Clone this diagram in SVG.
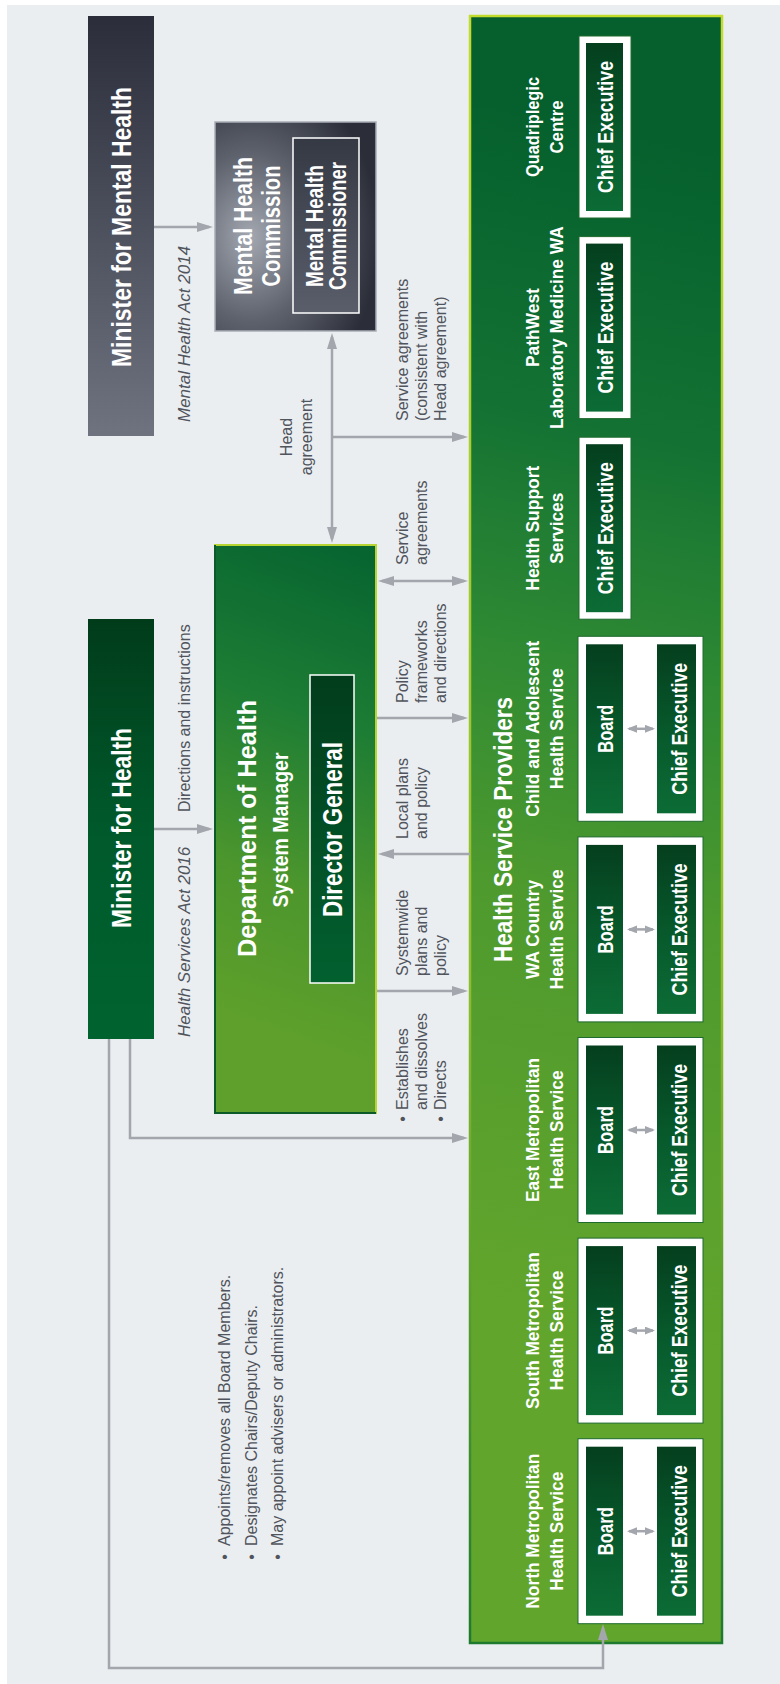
<svg xmlns="http://www.w3.org/2000/svg" width="780" height="1684" viewBox="0 0 780 1684">
<defs>
<style>
.b{font-family:"Liberation Sans",Arial,Helvetica,sans-serif;font-weight:bold;fill:#fff}
.p{font-size:18.5px}
.l{font-family:"Liberation Sans",Arial,Helvetica,sans-serif;font-size:16px;fill:#50545c}
.i{font-style:italic;font-size:17px}
.c{stroke:#a3a6ad;stroke-width:2.5;fill:none}
.wb{fill:#fff;stroke:#1f6a2e;stroke-width:1}
.gb{fill:url(#gBox)}
</style>
<linearGradient id="gMMH" x1="0" y1="0" x2="0" y2="1"><stop offset="0" stop-color="#2b2e3a"/><stop offset="1" stop-color="#6e737f"/></linearGradient>
<radialGradient id="gMHC" cx="0.22" cy="0.55" r="0.8"><stop offset="0" stop-color="#a3a7b0"/><stop offset="0.5" stop-color="#5e626d"/><stop offset="1" stop-color="#2b2e38"/></radialGradient>
<linearGradient id="gMHCi" x1="0" y1="0" x2="0" y2="1"><stop offset="0" stop-color="#353944"/><stop offset="1" stop-color="#5a5e6a"/></linearGradient>
<linearGradient id="gMfH" x1="0" y1="0" x2="0" y2="1"><stop offset="0" stop-color="#013c1a"/><stop offset="0.5" stop-color="#00592b"/><stop offset="1" stop-color="#00632f"/></linearGradient>
<linearGradient id="gDoH" gradientUnits="userSpaceOnUse" x1="376" y1="560" x2="215" y2="1010"><stop offset="0" stop-color="#076530"/><stop offset="0.35" stop-color="#1d7d34"/><stop offset="0.7" stop-color="#4c962d"/><stop offset="1" stop-color="#5ea02b"/></linearGradient>
<linearGradient id="gDG" x1="0" y1="0" x2="0" y2="1"><stop offset="0" stop-color="#023d1b"/><stop offset="1" stop-color="#02602f"/></linearGradient>
<linearGradient id="gHSP" gradientUnits="userSpaceOnUse" x1="720" y1="150" x2="470" y2="1300"><stop offset="0" stop-color="#05602d"/><stop offset="0.25" stop-color="#137233"/><stop offset="0.45" stop-color="#2f8a33"/><stop offset="0.65" stop-color="#4e9a2e"/><stop offset="1" stop-color="#62a52c"/></linearGradient>
<linearGradient id="gHSPs" x1="0" y1="0" x2="0" y2="1"><stop offset="0" stop-color="#c3dc2c"/><stop offset="0.6" stop-color="#8dbd2c"/><stop offset="1" stop-color="#1d7a2e"/></linearGradient>
<linearGradient id="gBox" x1="0" y1="0" x2="0" y2="1"><stop offset="0" stop-color="#053f1e"/><stop offset="0.5" stop-color="#07582b"/><stop offset="1" stop-color="#0c6c35"/></linearGradient>
<marker id="ah" viewBox="0 0 16 11" refX="12" refY="5.5" markerWidth="16" markerHeight="11" markerUnits="userSpaceOnUse" orient="auto-start-reverse"><path d="M0,0.5 L16,5.5 L0,10.5 Z" fill="#a3a6ad"/></marker>
<marker id="as" viewBox="0 0 10 8" refX="8" refY="4" markerWidth="10" markerHeight="8" markerUnits="userSpaceOnUse" orient="auto-start-reverse"><path d="M0,0 L10,4 L0,8 Z" fill="#a3a6ad"/></marker>
</defs>

<rect x="0" y="0" width="780" height="1684" fill="#ffffff"/>
<rect x="7" y="5" width="773" height="1679" fill="#ebeef1"/>

<g id="minister-mental-health">
<rect x="88" y="16" width="66" height="420" fill="url(#gMMH)"/>
<text class="b" font-size="28" text-anchor="middle" textLength="280" lengthAdjust="spacingAndGlyphs" transform="translate(130.5,227) rotate(-90)">Minister for Mental Health</text>
</g>

<g id="mental-health-commission">
<rect x="215" y="122" width="161" height="209" fill="url(#gMHC)" stroke="#a9adb5" stroke-width="1.5"/>
<text class="b" font-size="26" text-anchor="middle" textLength="138" lengthAdjust="spacingAndGlyphs" transform="translate(252,226) rotate(-90)">Mental Health</text>
<text class="b" font-size="26" text-anchor="middle" textLength="121" lengthAdjust="spacingAndGlyphs" transform="translate(279.5,226) rotate(-90)">Commission</text>
<g id="mental-health-commissioner">
<rect x="293" y="138" width="66" height="175" fill="url(#gMHCi)" stroke="#ffffff" stroke-width="1.5"/>
<text class="b" font-size="23.5" text-anchor="middle" textLength="122" lengthAdjust="spacingAndGlyphs" transform="translate(323,226) rotate(-90)">Mental Health</text>
<text class="b" font-size="23.5" text-anchor="middle" textLength="128" lengthAdjust="spacingAndGlyphs" transform="translate(346,226) rotate(-90)">Commissioner</text>
</g>
</g>

<g id="minister-health">
<rect x="88" y="619" width="66" height="420" fill="url(#gMfH)"/>
<text class="b" font-size="28" text-anchor="middle" textLength="200" lengthAdjust="spacingAndGlyphs" transform="translate(131,828) rotate(-90)">Minister for Health</text>
</g>

<g id="department-of-health">
<rect x="215" y="545" width="161" height="568" fill="url(#gDoH)" stroke="#b6d432" stroke-width="2"/>
<path d="M215,545 V1113 H376" fill="none" stroke="#0b5a28" stroke-width="2"/>
<text class="b" font-size="26" text-anchor="middle" textLength="257" lengthAdjust="spacingAndGlyphs" transform="translate(255.5,828.5) rotate(-90)">Department of Health</text>
<text class="b" font-size="22" text-anchor="middle" textLength="155" lengthAdjust="spacingAndGlyphs" transform="translate(288,830) rotate(-90)">System Manager</text>
<g id="director-general">
<rect x="310" y="675" width="44" height="308" fill="url(#gDG)" stroke="#ffffff" stroke-width="1.5"/>
<text class="b" font-size="28" text-anchor="middle" textLength="175" lengthAdjust="spacingAndGlyphs" transform="translate(341.5,829.5) rotate(-90)">Director General</text>
</g>
</g>

<g id="health-service-providers">
<rect x="470" y="16" width="252" height="1627" fill="url(#gHSP)" stroke="url(#gHSPs)" stroke-width="2.5"/>
<text class="b" font-size="26" text-anchor="middle" textLength="265" lengthAdjust="spacingAndGlyphs" transform="translate(512,829.5) rotate(-90)">Health Service Providers</text>
</g>

<g id="quadriplegic-centre">
<text class="b p" text-anchor="middle" textLength="100" lengthAdjust="spacingAndGlyphs" transform="translate(539,127) rotate(-90)">Quadriplegic</text>
<text class="b p" text-anchor="middle" textLength="53" lengthAdjust="spacingAndGlyphs" transform="translate(563,127) rotate(-90)">Centre</text>
<rect class="wb" x="579" y="36" width="52" height="182"/>
<rect class="gb" x="586" y="43" width="37" height="168"/>
<text class="b" font-size="22" text-anchor="middle" textLength="132" lengthAdjust="spacingAndGlyphs" transform="translate(613,127) rotate(-90)">Chief Executive</text>
</g>

<g id="pathwest">
<text class="b p" text-anchor="middle" textLength="79" lengthAdjust="spacingAndGlyphs" transform="translate(539,327.6) rotate(-90)">PathWest</text>
<text class="b p" text-anchor="middle" textLength="203" lengthAdjust="spacingAndGlyphs" transform="translate(563,327.6) rotate(-90)">Laboratory Medicine WA</text>
<rect class="wb" x="579" y="236.6" width="52" height="182"/>
<rect class="gb" x="586" y="243.6" width="37" height="168"/>
<text class="b" font-size="22" text-anchor="middle" textLength="132" lengthAdjust="spacingAndGlyphs" transform="translate(613,327.6) rotate(-90)">Chief Executive</text>
</g>

<g id="health-support-services">
<text class="b p" text-anchor="middle" textLength="125" lengthAdjust="spacingAndGlyphs" transform="translate(539,528.2) rotate(-90)">Health Support</text>
<text class="b p" text-anchor="middle" textLength="71" lengthAdjust="spacingAndGlyphs" transform="translate(563,528.2) rotate(-90)">Services</text>
<rect class="wb" x="579" y="437.2" width="52" height="182"/>
<rect class="gb" x="586" y="444.2" width="37" height="168"/>
<text class="b" font-size="22" text-anchor="middle" textLength="132" lengthAdjust="spacingAndGlyphs" transform="translate(613,528.2) rotate(-90)">Chief Executive</text>
</g>

<g id="child-adolescent">
<text class="b p" text-anchor="middle" textLength="176" lengthAdjust="spacingAndGlyphs" transform="translate(539,728.8) rotate(-90)">Child and Adolescent</text>
<text class="b p" text-anchor="middle" textLength="121" lengthAdjust="spacingAndGlyphs" transform="translate(563,728.8) rotate(-90)">Health Service</text>
<rect class="wb" x="578" y="636.3" width="125" height="185"/>
<rect class="gb" x="586" y="644.3" width="37" height="169"/>
<rect class="gb" x="657" y="644.3" width="39" height="169"/>
<text class="b" font-size="22" text-anchor="middle" textLength="48" lengthAdjust="spacingAndGlyphs" transform="translate(613,728.8) rotate(-90)">Board</text>
<text class="b" font-size="22" text-anchor="middle" textLength="132" lengthAdjust="spacingAndGlyphs" transform="translate(687,728.8) rotate(-90)">Chief Executive</text>
</g>

<g id="wa-country">
<text class="b p" text-anchor="middle" textLength="99" lengthAdjust="spacingAndGlyphs" transform="translate(539,929.4) rotate(-90)">WA Country</text>
<text class="b p" text-anchor="middle" textLength="120" lengthAdjust="spacingAndGlyphs" transform="translate(563,929.4) rotate(-90)">Health Service</text>
<rect class="wb" x="578" y="836.9" width="125" height="185"/>
<rect class="gb" x="586" y="844.9" width="37" height="169"/>
<rect class="gb" x="657" y="844.9" width="39" height="169"/>
<text class="b" font-size="22" text-anchor="middle" textLength="48" lengthAdjust="spacingAndGlyphs" transform="translate(613,929.4) rotate(-90)">Board</text>
<text class="b" font-size="22" text-anchor="middle" textLength="132" lengthAdjust="spacingAndGlyphs" transform="translate(687,929.4) rotate(-90)">Chief Executive</text>
</g>

<g id="east-metropolitan">
<text class="b p" text-anchor="middle" textLength="144" lengthAdjust="spacingAndGlyphs" transform="translate(539,1130) rotate(-90)">East Metropolitan</text>
<text class="b p" text-anchor="middle" textLength="119" lengthAdjust="spacingAndGlyphs" transform="translate(563,1130) rotate(-90)">Health Service</text>
<rect class="wb" x="578" y="1037.5" width="125" height="185"/>
<rect class="gb" x="586" y="1045.5" width="37" height="169"/>
<rect class="gb" x="657" y="1045.5" width="39" height="169"/>
<text class="b" font-size="22" text-anchor="middle" textLength="48" lengthAdjust="spacingAndGlyphs" transform="translate(613,1130) rotate(-90)">Board</text>
<text class="b" font-size="22" text-anchor="middle" textLength="132" lengthAdjust="spacingAndGlyphs" transform="translate(687,1130) rotate(-90)">Chief Executive</text>
</g>

<g id="south-metropolitan">
<text class="b p" text-anchor="middle" textLength="157" lengthAdjust="spacingAndGlyphs" transform="translate(539,1330.6) rotate(-90)">South Metropolitan</text>
<text class="b p" text-anchor="middle" textLength="120" lengthAdjust="spacingAndGlyphs" transform="translate(563,1330.6) rotate(-90)">Health Service</text>
<rect class="wb" x="578" y="1238.1" width="125" height="185"/>
<rect class="gb" x="586" y="1246.1" width="37" height="169"/>
<rect class="gb" x="657" y="1246.1" width="39" height="169"/>
<text class="b" font-size="22" text-anchor="middle" textLength="48" lengthAdjust="spacingAndGlyphs" transform="translate(613,1330.6) rotate(-90)">Board</text>
<text class="b" font-size="22" text-anchor="middle" textLength="132" lengthAdjust="spacingAndGlyphs" transform="translate(687,1330.6) rotate(-90)">Chief Executive</text>
</g>

<g id="north-metropolitan">
<text class="b p" text-anchor="middle" textLength="155" lengthAdjust="spacingAndGlyphs" transform="translate(539,1531.2) rotate(-90)">North Metropolitan</text>
<text class="b p" text-anchor="middle" textLength="119" lengthAdjust="spacingAndGlyphs" transform="translate(563,1531.2) rotate(-90)">Health Service</text>
<rect class="wb" x="578" y="1438.7" width="125" height="185"/>
<rect class="gb" x="586" y="1446.7" width="37" height="169"/>
<rect class="gb" x="657" y="1446.7" width="39" height="169"/>
<text class="b" font-size="22" text-anchor="middle" textLength="48" lengthAdjust="spacingAndGlyphs" transform="translate(613,1531.2) rotate(-90)">Board</text>
<text class="b" font-size="22" text-anchor="middle" textLength="132" lengthAdjust="spacingAndGlyphs" transform="translate(687,1531.2) rotate(-90)">Chief Executive</text>
</g>

<g id="connectors">
<path class="c" d="M154,227 H209" marker-end="url(#ah)"/>
<path class="c" d="M154,829 H209" marker-end="url(#ah)"/>
<path class="c" d="M332,337 V539" marker-start="url(#ah)" marker-end="url(#ah)"/>
<path class="c" d="M332,437 H464" marker-end="url(#ah)"/>
<path class="c" d="M382,581 H464" marker-start="url(#ah)" marker-end="url(#ah)"/>
<path class="c" d="M377,718 H464" marker-end="url(#ah)"/>
<path class="c" d="M470,854 H382" marker-end="url(#ah)"/>
<path class="c" d="M377,991 H464" marker-end="url(#ah)"/>
<path class="c" d="M130,1039 V1138 H464" marker-end="url(#ah)"/>
<path class="c" d="M109,1039 V1668 H603 V1628" marker-end="url(#ah)"/>
<path class="c" stroke-width="2" d="M629,728.8 H653" marker-start="url(#as)" marker-end="url(#as)"/>
<path class="c" stroke-width="2" d="M629,929.4 H653" marker-start="url(#as)" marker-end="url(#as)"/>
<path class="c" stroke-width="2" d="M629,1130 H653" marker-start="url(#as)" marker-end="url(#as)"/>
<path class="c" stroke-width="2" d="M629,1330.6 H653" marker-start="url(#as)" marker-end="url(#as)"/>
<path class="c" stroke-width="2" d="M629,1531.2 H653" marker-start="url(#as)" marker-end="url(#as)"/>
</g>

<g id="labels">
<text class="l i" transform="translate(190,422) rotate(-90)">Mental Health Act 2014</text>
<text class="l i" transform="translate(190,1037) rotate(-90)">Health Services Act 2016</text>
<text class="l" font-size="16.5" transform="translate(190,812) rotate(-90)">Directions and instructions</text>
<text class="l" text-anchor="middle" transform="translate(292,437) rotate(-90)">Head</text>
<text class="l" text-anchor="middle" transform="translate(311.5,437) rotate(-90)">agreement</text>
<text class="l" transform="translate(408,421) rotate(-90)">Service agreements</text>
<text class="l" transform="translate(427,421) rotate(-90)">(consistent with</text>
<text class="l" transform="translate(446,421) rotate(-90)">Head agreement)</text>
<text class="l" transform="translate(408,565) rotate(-90)">Service</text>
<text class="l" transform="translate(427,565) rotate(-90)">agreements</text>
<text class="l" transform="translate(408,703) rotate(-90)">Policy</text>
<text class="l" transform="translate(427,703) rotate(-90)">frameworks</text>
<text class="l" transform="translate(446,703) rotate(-90)">and directions</text>
<text class="l" transform="translate(408,839) rotate(-90)">Local plans</text>
<text class="l" transform="translate(427,839) rotate(-90)">and policy</text>
<text class="l" transform="translate(408,976) rotate(-90)">Systemwide</text>
<text class="l" transform="translate(427,976) rotate(-90)">plans and</text>
<text class="l" transform="translate(446,976) rotate(-90)">policy</text>
<text class="l" text-anchor="middle" transform="translate(408,1119) rotate(-90)">•</text>
<text class="l" transform="translate(408,1110) rotate(-90)">Establishes</text>
<text class="l" transform="translate(427,1110) rotate(-90)">and dissolves</text>
<text class="l" text-anchor="middle" transform="translate(446,1119) rotate(-90)">•</text>
<text class="l" transform="translate(446,1110) rotate(-90)">Directs</text>
<text class="l" text-anchor="middle" transform="translate(230,1557) rotate(-90)">•</text>
<text class="l" transform="translate(230,1546) rotate(-90)">Appoints/removes all Board Members.</text>
<text class="l" text-anchor="middle" transform="translate(256.5,1557) rotate(-90)">•</text>
<text class="l" transform="translate(256.5,1546) rotate(-90)">Designates Chairs/Deputy Chairs.</text>
<text class="l" text-anchor="middle" transform="translate(283,1557) rotate(-90)">•</text>
<text class="l" transform="translate(283,1546) rotate(-90)">May appoint advisers or administrators.</text>
</g>
</svg>
